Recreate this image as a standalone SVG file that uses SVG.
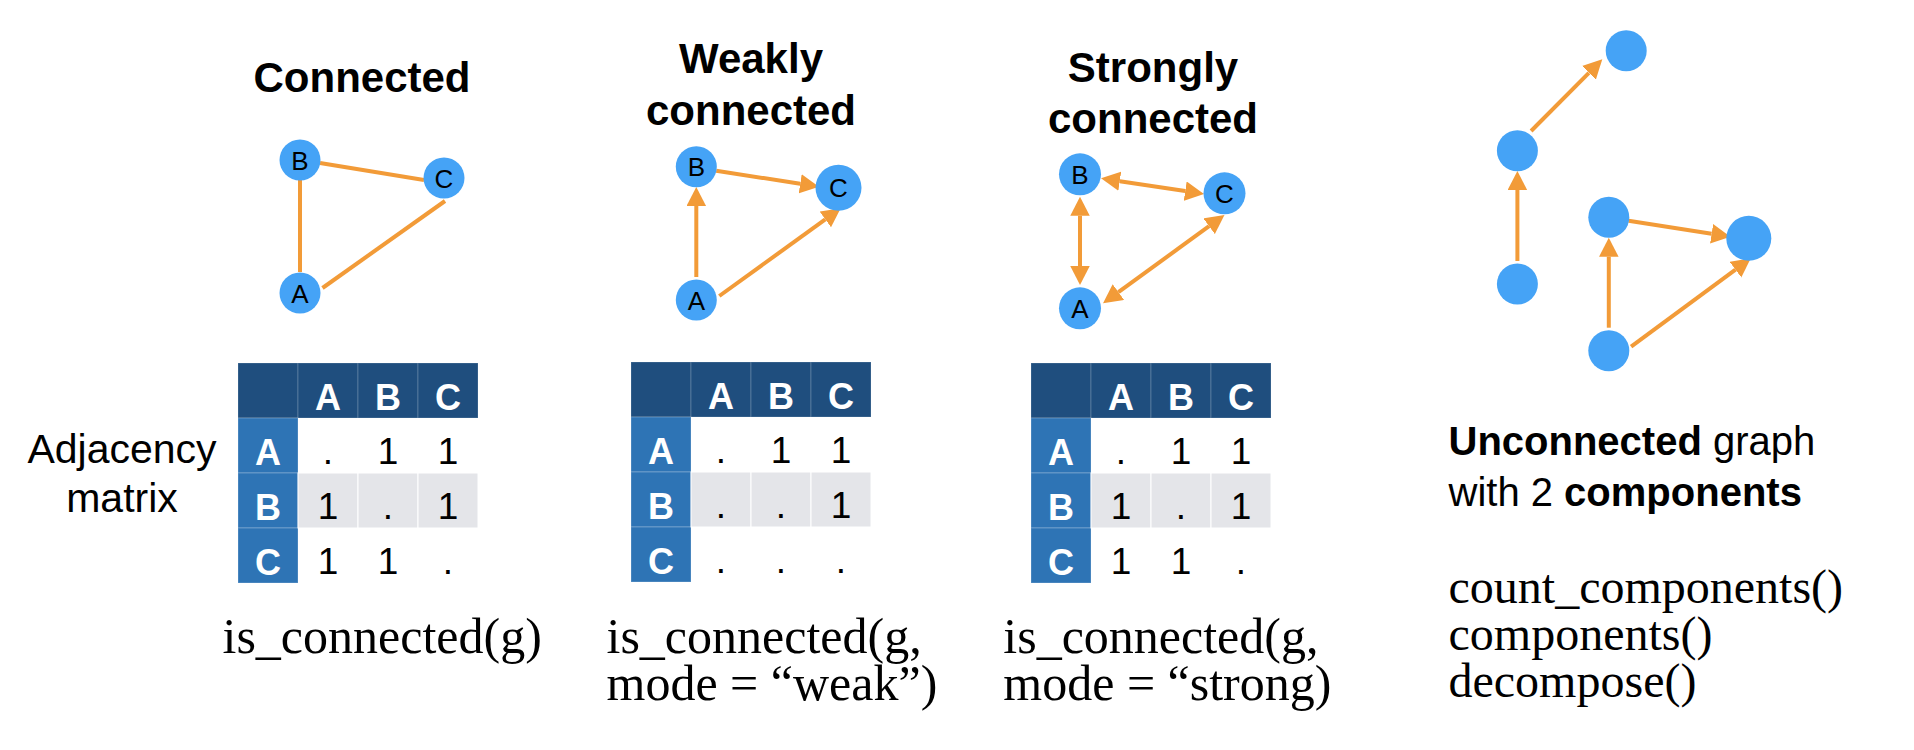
<svg xmlns="http://www.w3.org/2000/svg" width="1914" height="750" viewBox="0 0 1914 750">
<style>
.title{font-family:"Liberation Sans",Arial,sans-serif;font-weight:bold;font-size:42px;fill:#000;text-anchor:middle}
.node{fill:#45a3f6}
.nl{font-family:"Liberation Sans",Arial,sans-serif;font-size:26px;fill:#000;text-anchor:middle}
.edge{stroke:#f29b38;stroke-width:4;fill:none}
.hd{fill:#1f4e7e;stroke:#ffffff;stroke-opacity:0.2;stroke-width:1}
.rh{fill:#2e74b5;stroke:#ffffff;stroke-opacity:0.25;stroke-width:1}
.gr{fill:#e4e5e9;stroke:#ffffff;stroke-width:1}
.ht{font-family:"Liberation Sans",Arial,sans-serif;font-weight:bold;font-size:36px;fill:#fff;text-anchor:middle}
.vt{font-family:"Liberation Sans",Arial,sans-serif;font-size:37px;fill:#000;text-anchor:middle}
.lab{font-family:"Liberation Sans",Arial,sans-serif;font-size:41px;fill:#000;text-anchor:middle}
.code{font-family:"Liberation Serif","Times New Roman",serif;font-size:50px;fill:#000}
.code2{font-family:"Liberation Serif","Times New Roman",serif;font-size:48px;fill:#000}
.txt{font-family:"Liberation Sans",Arial,sans-serif;font-size:40px;fill:#000}
</style>
<defs>
<marker id="ah" markerUnits="userSpaceOnUse" markerWidth="20" markerHeight="20" refX="0" refY="9.75" orient="auto-start-reverse" viewBox="0 0 20 20">
<path d="M0,0 L19,9.75 L0,19.5 z" fill="#f29b38"/>
</marker>
</defs>
<rect width="1914" height="750" fill="#ffffff"/>

<!-- Titles -->
<text class="title" x="362" y="92">Connected</text>
<text class="title" x="751" y="73">Weakly</text>
<text class="title" x="751" y="125">connected</text>
<text class="title" x="1153" y="82">Strongly</text>
<text class="title" x="1153" y="133">connected</text>

<!-- Connectors -->
<g id="connectors">
<line class="edge" x1="300" y1="180" x2="300" y2="272"/>
<line class="edge" x1="320" y1="163" x2="424" y2="180"/>
<line class="edge" x1="322.5" y1="288" x2="445" y2="201"/>

<line class="edge" x1="696.3" y1="277" x2="696.3" y2="206" marker-end="url(#ah)"/>
<line class="edge" x1="716.2" y1="170.7" x2="800.2" y2="183.8" marker-end="url(#ah)"/>
<line class="edge" x1="719.3" y1="296" x2="825.3" y2="219.4" marker-end="url(#ah)"/>

<line class="edge" x1="1080" y1="215.7" x2="1080" y2="266" marker-start="url(#ah)" marker-end="url(#ah)"/>
<line class="edge" x1="1119.8" y1="181.2" x2="1185.2" y2="191.1" marker-start="url(#ah)" marker-end="url(#ah)"/>
<line class="edge" x1="1118.4" y1="292.1" x2="1209.1" y2="226.2" marker-start="url(#ah)" marker-end="url(#ah)"/>

<line class="edge" x1="1517.4" y1="261" x2="1517.4" y2="190" marker-end="url(#ah)"/>
<line class="edge" x1="1531.1" y1="131" x2="1588.9" y2="72.8" marker-end="url(#ah)"/>
<line class="edge" x1="1628.5" y1="220.7" x2="1711.6" y2="233.75" marker-end="url(#ah)"/>
<line class="edge" x1="1608.8" y1="327.7" x2="1608.8" y2="256.7" marker-end="url(#ah)"/>
<line class="edge" x1="1631.1" y1="346.7" x2="1735.5" y2="269.6" marker-end="url(#ah)"/>
</g>

<!-- Nodes panel 1 -->
<g id="c-B"><circle class="node" cx="300" cy="160" r="20.5"/><text class="nl" x="300" y="169.5">B</text></g>
<g id="c-C"><circle class="node" cx="444" cy="178" r="20.5"/><text class="nl" x="444" y="187.5">C</text></g>
<g id="c-A"><circle class="node" cx="300" cy="293" r="20.5"/><text class="nl" x="300" y="302.5">A</text></g>
<!-- panel 2 -->
<g id="w-B"><circle class="node" cx="696.3" cy="166.7" r="20.5"/><text class="nl" x="696.3" y="176">B</text></g>
<g id="w-C"><circle class="node" cx="838.5" cy="187.7" r="23"/><text class="nl" x="838.5" y="197">C</text></g>
<g id="w-A"><circle class="node" cx="696.3" cy="300" r="20.5"/><text class="nl" x="696.3" y="309.5">A</text></g>
<!-- panel 3 -->
<g id="s-B"><circle class="node" cx="1080" cy="174.3" r="21"/><text class="nl" x="1080" y="183.8">B</text></g>
<g id="s-C"><circle class="node" cx="1224.5" cy="193.3" r="21"/><text class="nl" x="1224.5" y="202.8">C</text></g>
<g id="s-A"><circle class="node" cx="1080" cy="308.3" r="21"/><text class="nl" x="1080" y="317.8">A</text></g>
<!-- panel 4 -->
<g id="u-1"><circle class="node" cx="1626.2" cy="50.7" r="20.5"/></g>
<g id="u-2"><circle class="node" cx="1517.4" cy="150.7" r="20.5"/></g>
<g id="u-3"><circle class="node" cx="1517.4" cy="284" r="20.5"/></g>
<g id="u-4"><circle class="node" cx="1608.8" cy="217.3" r="20.5"/></g>
<g id="u-5"><circle class="node" cx="1748.8" cy="238.3" r="22.5"/></g>
<g id="u-6"><circle class="node" cx="1608.8" cy="350.7" r="20.5"/></g>

<!-- Adjacency label -->
<text class="lab" x="122" y="463">Adjacency</text>
<text class="lab" x="122" y="512">matrix</text>

<!-- Table 1 -->
<g id="table1">
<rect class="hd" x="238" y="363" width="60" height="55"/><rect class="hd" x="298" y="363" width="60" height="55"/><rect class="hd" x="358" y="363" width="60" height="55"/><rect class="hd" x="418" y="363" width="60" height="55"/>
<rect class="rh" x="238" y="418" width="60" height="55"/><rect class="rh" x="238" y="473" width="60" height="55"/><rect class="rh" x="238" y="528" width="60" height="55"/>
<rect class="gr" x="298" y="473" width="60" height="55"/><rect class="gr" x="358" y="473" width="60" height="55"/><rect class="gr" x="418" y="473" width="60" height="55"/>
<text class="ht" x="328" y="409.5">A</text><text class="ht" x="388" y="409.5">B</text><text class="ht" x="448" y="409.5">C</text>
<text class="ht" x="268" y="465">A</text><text class="ht" x="268" y="520">B</text><text class="ht" x="268" y="575">C</text>
<text class="vt" x="328" y="464">.</text><text class="vt" x="388" y="464">1</text><text class="vt" x="448" y="464">1</text>
<text class="vt" x="328" y="519">1</text><text class="vt" x="388" y="519">.</text><text class="vt" x="448" y="519">1</text>
<text class="vt" x="328" y="574">1</text><text class="vt" x="388" y="574">1</text><text class="vt" x="448" y="574">.</text>
</g>

<!-- Table 2 -->
<g id="table2">
<rect class="hd" x="631" y="362" width="60" height="55"/><rect class="hd" x="691" y="362" width="60" height="55"/><rect class="hd" x="751" y="362" width="60" height="55"/><rect class="hd" x="811" y="362" width="60" height="55"/>
<rect class="rh" x="631" y="417" width="60" height="55"/><rect class="rh" x="631" y="472" width="60" height="55"/><rect class="rh" x="631" y="527" width="60" height="55"/>
<rect class="gr" x="691" y="472" width="60" height="55"/><rect class="gr" x="751" y="472" width="60" height="55"/><rect class="gr" x="811" y="472" width="60" height="55"/>
<text class="ht" x="721" y="408.5">A</text><text class="ht" x="781" y="408.5">B</text><text class="ht" x="841" y="408.5">C</text>
<text class="ht" x="661" y="464">A</text><text class="ht" x="661" y="519">B</text><text class="ht" x="661" y="574">C</text>
<text class="vt" x="721" y="463">.</text><text class="vt" x="781" y="463">1</text><text class="vt" x="841" y="463">1</text>
<text class="vt" x="721" y="518">.</text><text class="vt" x="781" y="518">.</text><text class="vt" x="841" y="518">1</text>
<text class="vt" x="721" y="573">.</text><text class="vt" x="781" y="573">.</text><text class="vt" x="841" y="573">.</text>
</g>

<!-- Table 3 -->
<g id="table3">
<rect class="hd" x="1031" y="363" width="60" height="55"/><rect class="hd" x="1091" y="363" width="60" height="55"/><rect class="hd" x="1151" y="363" width="60" height="55"/><rect class="hd" x="1211" y="363" width="60" height="55"/>
<rect class="rh" x="1031" y="418" width="60" height="55"/><rect class="rh" x="1031" y="473" width="60" height="55"/><rect class="rh" x="1031" y="528" width="60" height="55"/>
<rect class="gr" x="1091" y="473" width="60" height="55"/><rect class="gr" x="1151" y="473" width="60" height="55"/><rect class="gr" x="1211" y="473" width="60" height="55"/>
<text class="ht" x="1121" y="409.5">A</text><text class="ht" x="1181" y="409.5">B</text><text class="ht" x="1241" y="409.5">C</text>
<text class="ht" x="1061" y="465">A</text><text class="ht" x="1061" y="520">B</text><text class="ht" x="1061" y="575">C</text>
<text class="vt" x="1121" y="464">.</text><text class="vt" x="1181" y="464">1</text><text class="vt" x="1241" y="464">1</text>
<text class="vt" x="1121" y="519">1</text><text class="vt" x="1181" y="519">.</text><text class="vt" x="1241" y="519">1</text>
<text class="vt" x="1121" y="574">1</text><text class="vt" x="1181" y="574">1</text><text class="vt" x="1241" y="574">.</text>
</g>

<!-- Code texts -->
<text class="code" x="222.5" y="653">is_connected(g)</text>
<text class="code" x="606.5" y="653">is_connected(g,</text>
<text class="code" x="606.5" y="700">mode = “weak”)</text>
<text class="code" x="1003.3" y="653">is_connected(g,</text>
<text class="code" x="1003.3" y="700">mode = “strong)</text>

<!-- Right panel text -->
<text class="txt" x="1448.5" y="455"><tspan font-weight="bold">Unconnected</tspan> graph</text>
<text class="txt" x="1448.5" y="506">with 2 <tspan font-weight="bold">components</tspan></text>
<text class="code2" x="1448.5" y="603">count_components()</text>
<text class="code2" x="1448.5" y="650">components()</text>
<text class="code2" x="1448.5" y="697">decompose()</text>
</svg>
